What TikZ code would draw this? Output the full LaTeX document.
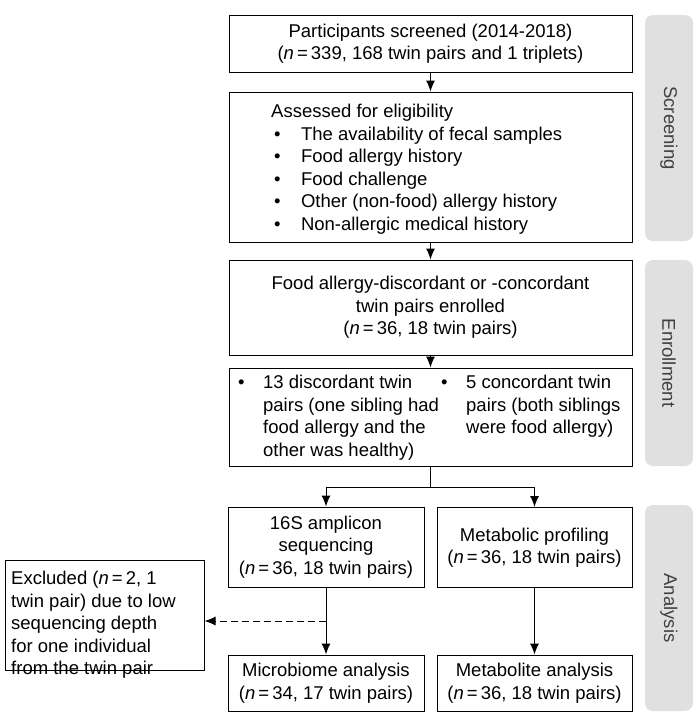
\documentclass[tikz,border=0pt]{standalone}
\usepackage{fontspec}
\setmainfont{Liberation Sans}
\usetikzlibrary{positioning,arrows.meta}
\newcommand{\nn}[1]{\textit{n}\,=\,#1}
\begin{document}
\begin{tikzpicture}[x=1pt,y=-1pt,
  box/.style={draw, line width=1pt, inner sep=4pt, font=\fontsize{18.5}{22.5}\selectfont},
  txt/.style={font=\fontsize{18.5}{22.5}\selectfont, align=left, inner sep=0pt},
  stage/.style={fill=black!12, rounded corners=8pt, minimum height=48pt, font=\fontsize{18.5}{22.5}\selectfont, text=black!75, rotate=-90},
  arr/.style={-{Latex[length=11pt,width=9pt]}, line width=1pt}]
\useasboundingbox (0,0) rectangle (700,724);

%Boxes
\node[box, minimum width=403pt, minimum height=57pt, align=center] (scr) at (430.5,43.5)
  {Participants screened (2014-2018)\\(\nn{339}, 168 twin pairs and 1 triplets)};
\node[box, minimum width=403pt, minimum height=150pt] (elig) at (430.5,167) {};
\node[txt, anchor=north west] (eligt) at (271,104)
  {Assessed for eligibility\\
  \hspace{3pt}\textbullet\hspace{1.1em}The availability of fecal samples\\
  \hspace{3pt}\textbullet\hspace{1.1em}Food allergy history\\
  \hspace{3pt}\textbullet\hspace{1.1em}Food challenge\\
  \hspace{3pt}\textbullet\hspace{1.1em}Other (non-food) allergy history\\
  \hspace{3pt}\textbullet\hspace{1.1em}Non-allergic medical history};
\node[box, minimum width=403pt, minimum height=95pt, align=center] (enr) at (430.5,307.5)
  {Food allergy-discordant or -concordant\\twin pairs enrolled\\(\nn{36}, 18 twin pairs)};
\node[box, minimum width=403pt, minimum height=98pt] (grp) at (430.5,417) {};
\node[txt, anchor=north west] (disc) at (238,375)
  {\textbullet\hspace{1em}13 discordant twin\\\phantom{\textbullet}\hspace{1em}pairs (one sibling had\\\phantom{\textbullet}\hspace{1em}food allergy and the\\\phantom{\textbullet}\hspace{1em}other was healthy)};
\node[txt, anchor=north west] (conc) at (441,375)
  {\textbullet\hspace{1em}5 concordant twin\\\phantom{\textbullet}\hspace{1em}pairs (both siblings\\\phantom{\textbullet}\hspace{1em}were food allergy)};
\node[box, minimum width=196pt, minimum height=80pt, align=center] (seq) at (326,547)
  {16S amplicon\\sequencing\\(\nn{36}, 18 twin pairs)};
\node[box, minimum width=195pt, minimum height=80pt, align=center, anchor=north] (prof) at (534.5,507)
  {Metabolic profiling\\(\nn{36}, 18 twin pairs)};
\node[box, minimum width=196pt, minimum height=56pt, align=center] (micro) at (326,683)
  {Microbiome analysis\\(\nn{34}, 17 twin pairs)};
\node[box, minimum width=195pt, minimum height=56pt, align=center] (meta) at (534.5,683)
  {Metabolite analysis\\(\nn{36}, 18 twin pairs)};
\node[box, minimum width=199pt, minimum height=110pt] (excl) at (104.5,615) {};
\node[txt, anchor=north west] (exclt) at (11,571)
  {Excluded (\nn{2}, 1\\twin pair) due to low\\sequencing depth\\for one individual\\from the twin pair};

%Stages
\node[stage, minimum width=226pt] at (669,128) {Screening};
\node[stage, minimum width=206pt] at (669,363) {Enrollment};
\node[stage, minimum width=206pt] at (669,608) {Analysis};

%Arrows
\draw[arr] (scr) -- (elig);
\draw[arr] (elig) -- (enr);
\draw[arr] (enr) -- (grp);
\coordinate (split) at (430.5,487);
\draw[line width=1pt] (grp.south) -- (split);
\draw[arr] (split) -| (seq.north);
\draw[arr] (split) -| (prof.north);
\draw[arr] (seq) -- (micro);
\draw[arr] (prof) -- (meta);
\coordinate (tap) at (seq.south |- 0,621);
\draw[arr, dashed, dash pattern=on 7pt off 4pt] (tap) -- (excl.east |- tap);
\end{tikzpicture}
\end{document}
